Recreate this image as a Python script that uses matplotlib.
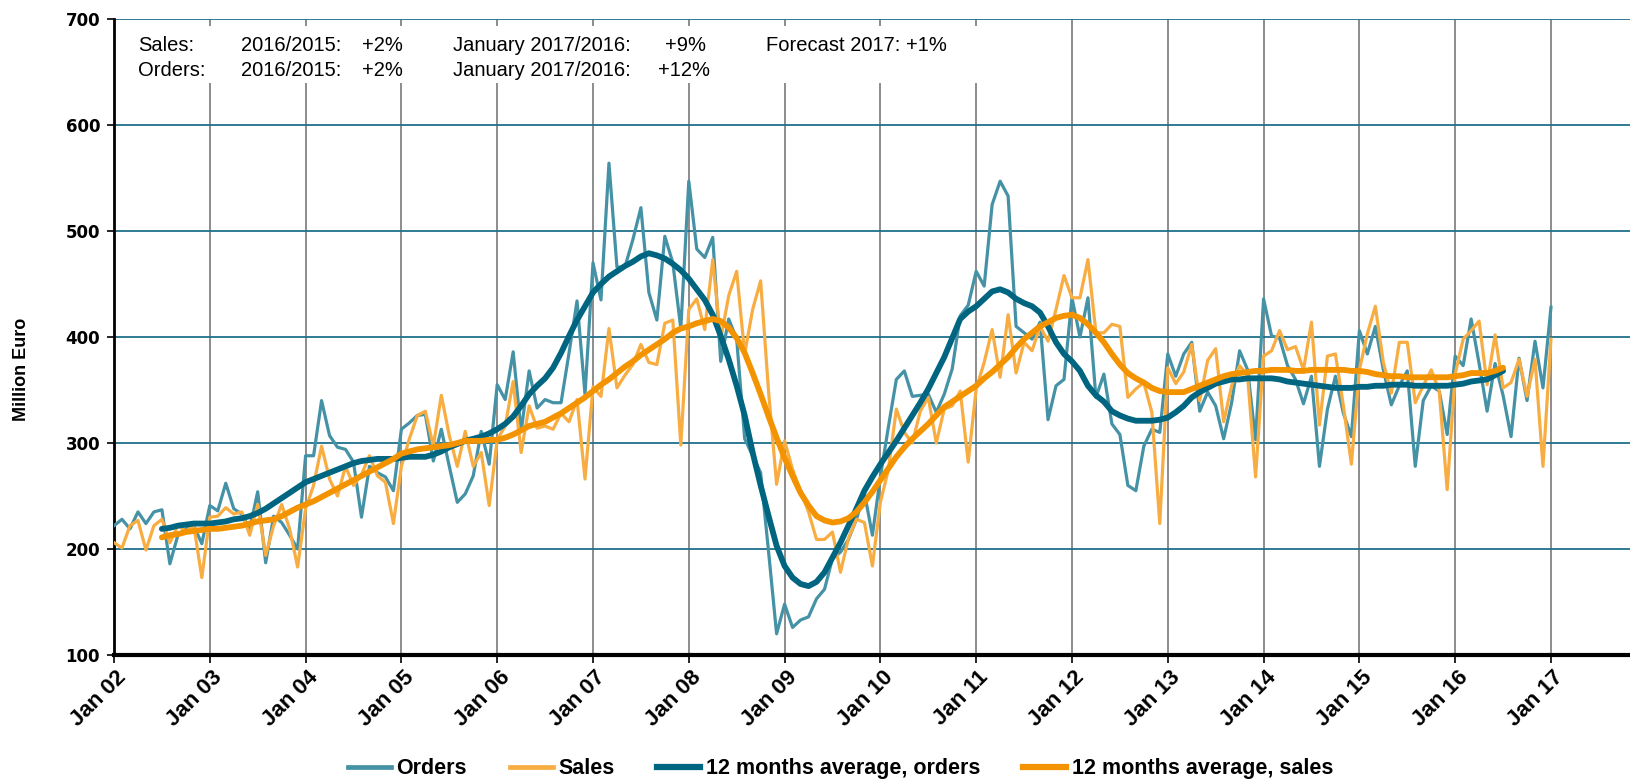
"""
Orders and sales, monthly 2002-2017, with 12-month averages.
Recreated as a static matplotlib chart, saved to out.png.
"""
import numpy as np
import matplotlib
matplotlib.use("Agg")
import matplotlib.pyplot as plt
import matplotlib.transforms as mtransforms
from matplotlib.patches import Rectangle
from matplotlib.lines import Line2D

# --- data (million euro, one value per month, Jan 2002 .. Jan 2017) ---
TICK_LABELS = ["Jan 02", "Jan 03", "Jan 04", "Jan 05", "Jan 06", "Jan 07",
               "Jan 08", "Jan 09", "Jan 10", "Jan 11", "Jan 12", "Jan 13",
               "Jan 14", "Jan 15", "Jan 16", "Jan 17"]

ORDERS = [
    222, 228, 219, 235, 224, 235, 237, 186, 213, 219, 222, 205,  # 2002
    241, 236, 262, 238, 233, 219, 254, 187, 231, 225, 213, 200,  # 2003
    288, 288, 340, 307, 296, 294, 282, 230, 278, 272, 268, 255,  # 2004
    313, 319, 326, 327, 283, 313, 278, 244, 252, 269, 311, 280,  # 2005
    355, 341, 386, 311, 368, 333, 341, 338, 338, 385, 434, 346,  # 2006
    470, 435, 564, 466, 466, 492, 522, 442, 416, 495, 470, 408,  # 2007
    547, 483, 475, 494, 377, 417, 398, 304, 288, 272, 197, 120,  # 2008
    148, 126, 133, 136, 153, 162, 191, 197, 209, 228, 253, 213,  # 2009
    268, 315, 360, 368, 344, 345, 346, 329, 346, 370, 420, 430,  # 2010
    462, 448, 525, 547, 533, 410, 404, 398, 414, 322, 354, 360,  # 2011
    437, 400, 437, 343, 365, 318, 308, 260, 255, 297, 313, 310,  # 2012
    384, 363, 384, 395, 330, 348, 335, 304, 338, 387, 369, 303,  # 2013
    436, 401, 399, 373, 360, 337, 363, 278, 332, 363, 328, 306,  # 2014
    406, 384, 410, 369, 336, 354, 368, 278, 340, 354, 349, 308,  # 2015
    382, 373, 417, 375, 330, 375, 345, 306, 380, 340, 396, 352,  # 2016
    428,                                                         # 2017
]

SALES = [
    206, 201, 222, 227, 199, 222, 228, 206, 222, 217, 222, 173,
    230, 231, 239, 233, 235, 213, 242, 194, 222, 242, 219, 183,
    238, 260, 297, 266, 250, 278, 260, 270, 288, 269, 263, 224,
    278, 304, 326, 330, 297, 345, 307, 278, 311, 278, 291, 241,
    303, 316, 358, 291, 335, 314, 316, 313, 328, 320, 341, 266,
    353, 344, 408, 352, 364, 374, 393, 376, 374, 413, 416, 298,
    426, 436, 407, 473, 398, 439, 462, 384, 426, 453, 348, 261,
    302, 275, 255, 235, 209, 209, 216, 178, 210, 228, 225, 184,
    244, 275, 332, 310, 300, 330, 343, 300, 332, 335, 349, 282,
    351, 376, 407, 362, 421, 366, 395, 387, 410, 396, 426, 458,
    437, 437, 473, 404, 404, 412, 410, 343, 351, 357, 329, 224,
    371, 356, 367, 393, 340, 378, 389, 320, 354, 373, 363, 268,
    382, 387, 406, 388, 391, 369, 414, 317, 382, 384, 335, 280,
    369, 403, 429, 376, 347, 395, 395, 338, 354, 369, 349, 256,
    365, 398, 406, 415, 355, 402, 352, 357, 379, 344, 379, 278,
    398,
]

# centred 12 month averages, Jul 2002 .. Jul 2016
AVG_FIRST_MONTH = 6
AVG_ORDERS = [
    219, 220, 222, 223, 224, 224,
    224, 225, 226, 228, 229, 231, 234, 238, 243, 248, 253, 258,
    263, 266, 269, 272, 275, 278, 281, 283, 284, 285, 285, 285,
    286, 287, 287, 287, 289, 292, 296, 299, 302, 304, 306, 309,
    313, 318, 325, 335, 346, 354, 361, 371, 385, 401, 416, 429,
    442, 450, 457, 462, 467, 471, 476, 479, 477, 474, 469, 463,
    455, 445, 435, 421, 401, 379, 354, 326, 291, 260, 231, 203,
    184, 173, 167, 165, 169, 178, 192, 206, 222, 238, 255, 268,
    280, 291, 302, 314, 326, 338, 351, 366, 381, 399, 417, 424,
    429, 436, 443, 445, 442, 436, 432, 429, 423, 410, 395, 384,
    377, 368, 354, 345, 339, 330, 326, 323, 321, 321, 321, 322,
    324, 329, 335, 343, 348, 352, 356, 358, 360, 360, 361, 361,
    361, 361, 360, 358, 357, 356, 355, 354, 353, 352, 352, 352,
    353, 353, 354, 354, 355, 355, 355, 354, 354, 354, 354, 354,
    355, 356, 358, 359, 360, 364, 368,
]
AVG_SALES = [
    211, 213, 214, 216, 217, 218,
    219, 219, 220, 221, 222, 224, 226, 227, 228, 231, 235, 239,
    242, 245, 249, 253, 257, 261, 265, 269, 273, 277, 281, 285,
    290, 292, 294, 295, 296, 297, 298, 300, 302, 302, 302, 303,
    303, 305, 308, 312, 316, 318, 320, 324, 328, 333, 338, 343,
    349, 355, 360, 366, 372, 377, 383, 388, 393, 398, 404, 408,
    410, 413, 415, 417, 415, 409, 399, 385, 366, 346, 325, 305,
    286, 269, 253, 241, 231, 227, 225, 226, 229, 235, 244, 254,
    265, 276, 287, 296, 304, 311, 318, 326, 334, 339, 344, 349,
    354, 361, 367, 374, 381, 390, 398, 404, 410, 414, 418, 420,
    421, 418, 412, 404, 395, 384, 374, 366, 361, 357, 352, 349,
    348, 348, 348, 351, 354, 357, 360, 363, 365, 366, 367, 368,
    368, 369, 369, 369, 368, 368, 369, 369, 369, 369, 369, 368,
    368, 367, 365, 364, 363, 363, 362, 362, 362, 362, 362, 362,
    363, 364, 366, 366, 366, 368, 371,
]

HEADER = [
    ["Sales:", "2016/2015:", "+2%", "January 2017/2016:", "+9%", "Forecast 2017: +1%"],
    ["Orders:", "2016/2015:", "+2%", "January 2017/2016:", "+12%", ""],
]

C_ORDERS = "#4592a6"
C_SALES = "#f8ad42"
C_AVG_ORDERS = "#006580"
C_AVG_SALES = "#f39300"
ARIAL = ["Liberation Sans", "DejaVu Sans"]

W, H = 1630, 783


def main() -> None:
    fig = plt.figure(figsize=(W / 100, H / 100), dpi=100)
    ax = fig.add_axes([114 / W, 1 - 655 / H, 1 - 114 / W, (655 - 19) / H])

    x = np.arange(len(ORDERS))
    xa = np.arange(len(AVG_ORDERS)) + AVG_FIRST_MONTH

    ax.plot(x, ORDERS, color=C_ORDERS, lw=2.3, zorder=3)
    ax.plot(x, SALES, color=C_SALES, lw=2.3, zorder=3)
    ax.plot(xa, AVG_ORDERS, color=C_AVG_ORDERS, lw=4.2, zorder=4,
            solid_capstyle="round")
    ax.plot(xa, AVG_SALES, color=C_AVG_SALES, lw=4.2, zorder=4,
            solid_capstyle="round")

    ax.set_xlim(0, 189.9)
    ax.set_ylim(100, 700)
    xticks = np.arange(len(TICK_LABELS)) * 12
    ax.set_xticks(xticks)
    ax.set_yticks(range(100, 701, 100))
    ax.tick_params(axis="y", labelsize=12, length=5, width=1.2, pad=5)
    ax.tick_params(axis="x", length=6, width=1.2, labelbottom=False)
    for lab in ax.get_yticklabels():
        lab.set_fontweight("bold")

    # rotated month labels, drawn as text under each tick
    offset = mtransforms.ScaledTranslation(2 / 100, -12 / 100,
                                           fig.dpi_scale_trans)
    trans = ax.get_xaxis_transform() + offset
    for pos, txt in zip(xticks, TICK_LABELS):
        ax.text(pos, 0, txt, transform=trans, rotation=45, ha="right",
                va="top", rotation_mode="anchor", family=ARIAL,
                fontweight="bold", fontsize=16, clip_on=False)

    ax.set_axisbelow(True)
    ax.yaxis.grid(True, color="#1f6f8b", lw=1.3)
    ax.xaxis.grid(True, color="#8c8c8c", lw=1.4)
    for side in ("top", "right"):
        ax.spines[side].set_visible(False)
    ax.spines["left"].set_linewidth(2)
    ax.spines["bottom"].set_linewidth(3)

    # white box behind the key figures, hides the vertical grid there
    ax.add_patch(Rectangle((1.5, 640), 109, 53.5, facecolor="white",
                           edgecolor="none", zorder=1))

    fig.text(22 / W, 1 - 369 / H, "Million Euro", family=ARIAL,
             fontweight="bold", fontsize=13, rotation=90,
             ha="center", va="center")

    col_x = [138, 241, 362, 453, 658, 766]
    for row, base in zip(HEADER, (51, 76)):
        for i, txt in enumerate(row):
            cx = col_x[i]
            if txt == "+9%":
                cx = 665
            fig.text(cx / W, 1 - base / H, txt, family=ARIAL, fontsize=14.5,
                     va="baseline")

    handles = [Line2D([], [], color=c, lw=lw) for c, lw in
               [(C_ORDERS, 3.4), (C_SALES, 3.4),
                (C_AVG_ORDERS, 4.5), (C_AVG_SALES, 4.5)]]
    labels = ["Orders", "Sales", "12 months average, orders",
              "12 months average, sales"]
    fig.legend(handles, labels, loc="center", bbox_to_anchor=(0.5155, 0.018),
               ncol=4, frameon=False, handlelength=2.0, handletextpad=0.25,
               columnspacing=2.0,
               prop={"family": ARIAL, "weight": "bold", "size": 15.5})

    fig.savefig("out.png", dpi=100)


if __name__ == "__main__":
    main()
